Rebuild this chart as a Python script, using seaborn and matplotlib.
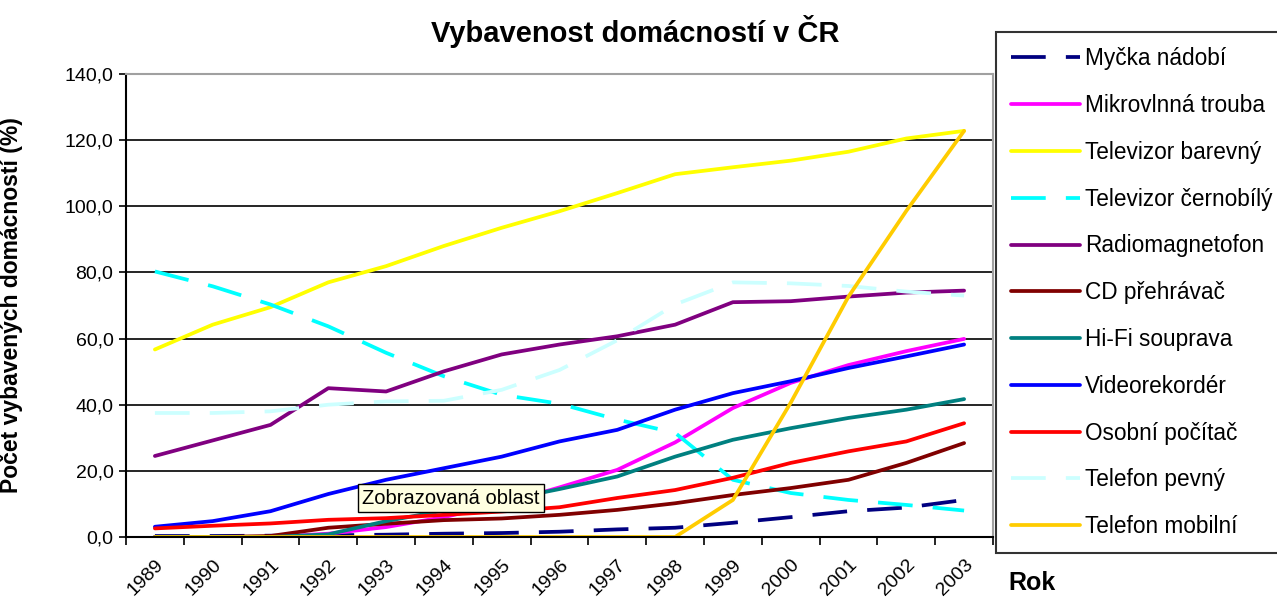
import matplotlib
matplotlib.use('Agg')
import matplotlib.pyplot as plt
import seaborn as sns
import numpy as np

# ---------------- data ----------------
years = [1989, 1990, 1991, 1992, 1993, 1994, 1995, 1996, 1997, 1998, 1999, 2000, 2001, 2002, 2003]

series_names = ["Myčka nádobí", "Mikrovlnná trouba", "Televizor barevný", "Televizor černobílý",
                "Radiomagnetofon", "CD přehrávač", "Hi-Fi souprava", "Videorekordér",
                "Osobní počítač", "Telefon pevný", "Telefon mobilní"]

mycka = [0.3, 0.3, 0.4, 0.5, 0.7, 1.0, 1.2, 1.6, 2.3, 2.8, 4.3, 6.0, 7.8, 8.9, 11.2]
mikrovlnna = [0.0, 0.0, 0.0, 1.0, 3.0, 6.0, 10.0, 15.0, 20.3, 28.6, 39.0, 46.6, 52.0, 56.2, 59.9]
tv_barevny = [56.7, 64.2, 69.5, 77.0, 81.9, 88.0, 93.5, 98.5, 104.0, 109.7, 111.8, 113.8, 116.5, 120.5, 122.8]
tv_cernobily = [80.3, 75.8, 70.3, 63.7, 55.7, 48.6, 43.0, 40.3, 35.5, 31.5, 17.3, 13.3, 11.2, 9.7, 8.0]
radiomagnetofon = [24.5, 29.2, 33.9, 45.0, 44.0, 50.1, 55.2, 58.2, 60.7, 64.2, 71.0, 71.3, 72.7, 73.9, 74.5]
cd_prehravac = [0.0, 0.0, 0.3, 2.8, 4.0, 5.1, 5.6, 6.7, 8.2, 10.2, 12.7, 14.8, 17.3, 22.4, 28.4]
hifi = [0.0, 0.0, 0.0, 0.8, 4.8, 8.0, 11.0, 14.5, 18.3, 24.3, 29.4, 32.9, 36.0, 38.5, 41.7]
videorekorder = [3.1, 4.8, 7.8, 13.0, 17.3, 20.8, 24.3, 28.9, 32.4, 38.5, 43.5, 47.1, 51.1, 54.6, 58.2]
pocitac = [2.6, 3.4, 4.1, 5.2, 5.7, 6.7, 7.7, 9.0, 11.8, 14.2, 17.9, 22.4, 25.9, 28.9, 34.4]
telefon_pevny = [37.5, 37.5, 38.0, 40.0, 41.0, 41.2, 44.5, 50.5, 59.5, 70.3, 77.0, 76.7, 75.9, 74.2, 73.0]
telefon_mobilni = [0.0, 0.0, 0.0, 0.0, 0.0, 0.0, 0.0, 0.0, 0.0, 0.0, 11.2, 40.6, 72.7, 98.6, 122.8]

y_ticks = [0, 20, 40, 60, 80, 100, 120, 140]

# ---------------- style ----------------
colors = ["#000080", "#FF00FF", "#FFFF00", "#00FFFF", "#800080", "#800000",
          "#008080", "#0000FF", "#FF0000", "#CCFFFF", "#FFCC00"]
dashed = [True, False, False, True, False, False, False, False, False, True, False]
values = [mycka, mikrovlnna, tv_barevny, tv_cernobily, radiomagnetofon, cd_prehravac,
          hifi, videorekorder, pocitac, telefon_pevny, telefon_mobilni]

sns.set_theme(style='white')
plt.rcParams['font.family'] = ['Liberation Sans', 'DejaVu Sans']
plt.rcParams['lines.scale_dashes'] = False
for k in ['text.color', 'axes.labelcolor', 'xtick.color', 'ytick.color']:
    plt.rcParams[k] = 'black'

W, H = 1277, 603
fig = plt.figure(figsize=(W / 100, H / 100), dpi=100)
fig.patch.set_facecolor('white')
ax = fig.add_axes([126 / W, 1 - 537 / H, (993 - 126) / W, (537 - 74) / H])
ax.set_facecolor('white')

x = np.arange(len(years))
dash_style = (0, (25, 14.5))
for name, vals, col, dsh in zip(series_names, values, colors, dashed):
    sns.lineplot(x=x, y=vals, ax=ax, color=col, linewidth=2.7, label=name,
                 linestyle=dash_style if dsh else '-', legend=False)

ax.set_xlim(-0.5, len(years) - 0.5)
ax.set_ylim(0, 140)

# y axis
ax.set_yticks(y_ticks)
ax.set_yticklabels([f"{v:.1f}".replace('.', ',') for v in y_ticks], fontsize=14)
ax.yaxis.grid(True, color='black', linewidth=1.2)
ax.xaxis.grid(False)
ax.set_axisbelow(True)
ax.tick_params(axis='y', which='major', direction='out', length=5, width=1.2,
               color='black', left=True, pad=4, labelcolor='black')

# x axis
ax.set_xticks(x)
ax.set_xticklabels([str(y) for y in years], rotation=45, ha='right',
                   rotation_mode='anchor', fontsize=14)
ax.set_xticks(np.arange(-0.5, len(years), 1.0), minor=True)
ax.tick_params(axis='x', which='major', length=0, pad=14, labelcolor='black')
ax.tick_params(axis='x', which='minor', direction='out', length=6, width=1.2,
               color='black', bottom=True)

for s in ['left', 'bottom']:
    ax.spines[s].set_color('black')
    ax.spines[s].set_linewidth(1.5)
for s in ['top', 'right']:
    ax.spines[s].set_color('#A0A0A0')
    ax.spines[s].set_linewidth(1.5)

ax.set_xlabel('')
ax.set_ylabel('Počet vybavených domácností (%)', fontsize=16.5, fontweight='bold')
ax.yaxis.set_label_coords((23 - 126) / (993 - 126), 0.5)

fig.text(635 / W, 1 - 32 / H, 'Vybavenost domácností v ČR', ha='center', va='center',
         fontsize=21, fontweight='bold')
fig.text(1008 / W, 1 - 583 / H, 'Rok', ha='left', va='center', fontsize=18, fontweight='bold')

handles = ax.get_lines()[:len(series_names)]
leg = fig.legend(handles, series_names, loc='upper left',
                 bbox_to_anchor=(996 / W, 1 - 32 / H), bbox_transform=fig.transFigure,
                 fontsize=16.3, handlelength=3.05, handletextpad=0.2, labelspacing=1.05,
                 borderpad=0.68, borderaxespad=0, frameon=True, fancybox=False)
leg.get_frame().set_edgecolor('black')
leg.get_frame().set_linewidth(1.5)
leg.get_frame().set_facecolor('white')

fig.text(362 / W, 1 - 498 / H, 'Zobrazovaná oblast', ha='left', va='center', fontsize=14.5,
         zorder=10, bbox=dict(boxstyle='square,pad=0.2', fc='#FFFFE1', ec='black', lw=1))

fig.savefig('out.png', dpi=100)
